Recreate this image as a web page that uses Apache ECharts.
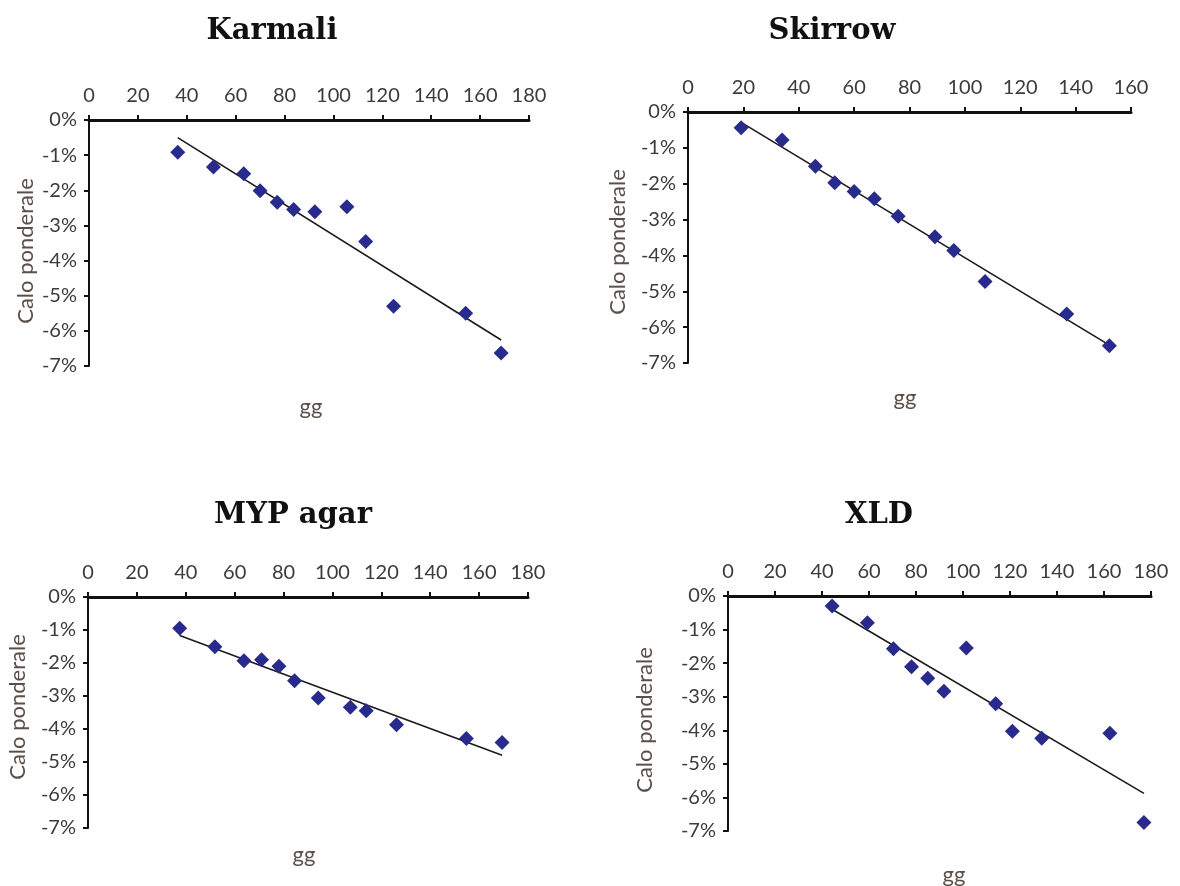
<!DOCTYPE html>
<html>
<head>
<meta charset="utf-8">
<script src="https://cdn.jsdelivr.net/npm/echarts@6/dist/echarts.min.js"></script>
<style>
  html, body { margin: 0; padding: 0; background: #fff; }
  #chart { width: 1180px; height: 886px; }
</style>
</head>
<body>
<div id="chart"></div>
<script>
// days (gg) and weight loss (%) per medium
const karmaliX = [36.3, 50.9, 63.3, 70.0, 77.0, 83.7, 92.4, 105.5, 113.2, 124.6, 154.1, 168.6];
const karmaliY = [-0.92, -1.34, -1.53, -2.01, -2.34, -2.55, -2.61, -2.47, -3.46, -5.30, -5.50, -6.63];

const skirrowX = [19.2, 34.0, 46.0, 53.0, 60.0, 67.3, 75.9, 89.2, 96.0, 107.3, 136.8, 152.2];
const skirrowY = [-0.44, -0.78, -1.51, -1.97, -2.22, -2.42, -2.91, -3.48, -3.86, -4.73, -5.63, -6.52];

const mypX = [37.5, 51.9, 63.8, 71.0, 78.1, 84.5, 94.2, 107.3, 113.8, 126.2, 154.8, 169.4];
const mypY = [-0.95, -1.51, -1.93, -1.90, -2.10, -2.54, -3.06, -3.34, -3.45, -3.87, -4.29, -4.41];

const xldX = [44.3, 59.3, 70.4, 78.1, 85.0, 91.9, 101.4, 113.9, 121.0, 133.5, 162.5, 177.0];
const xldY = [-0.30, -0.80, -1.57, -2.11, -2.45, -2.84, -1.55, -3.21, -4.03, -4.24, -4.09, -6.75];

const titles = ['Karmali', 'Skirrow', 'MYP agar', 'XLD'];
const xMaxes = [180, 160, 180, 180];
const yTicks = [0, -1, -2, -3, -4, -5, -6, -7];

const panels = [
  { xs: karmaliX, ys: karmaliY, grid: { left: 89, top: 120, width: 440, height: 246 }, title: [272, 31], xName: [311, 407], yName: [26, 251] },
  { xs: skirrowX, ys: skirrowY, grid: { left: 688, top: 112, width: 443, height: 251 }, title: [832, 31], xName: [905, 398], yName: [618, 242] },
  { xs: mypX, ys: mypY, grid: { left: 88, top: 597, width: 440, height: 231 }, title: [293, 515], xName: [304, 855], yName: [18, 707] },
  { xs: xldX, ys: xldY, grid: { left: 728, top: 596, width: 423, height: 235 }, title: [879, 515], xName: [954, 875], yName: [645, 720] }
];

// least squares trend line, spanning the data range
function trend(xs, ys) {
  const n = xs.length;
  const mx = xs.reduce((a, b) => a + b, 0) / n;
  const my = ys.reduce((a, b) => a + b, 0) / n;
  let sxy = 0, sxx = 0;
  for (let i = 0; i < n; i++) {
    sxy += (xs[i] - mx) * (ys[i] - my);
    sxx += (xs[i] - mx) * (xs[i] - mx);
  }
  const b = sxy / sxx, a = my - b * mx;
  const x0 = Math.min(...xs), x1 = Math.max(...xs);
  return [[x0, a + b * x0], [x1, a + b * x1]];
}

const tickColor = '#3b3b3b';
const nameColor = '#5a4f49';
const sans = 'Lato';

const grid = [], xAxis = [], yAxis = [], series = [], graphic = [];

panels.forEach((p, i) => {
  grid.push(p.grid);
  xAxis.push({
    gridIndex: i, type: 'value', position: 'top',
    min: 0, max: xMaxes[i], interval: 20,
    axisLine: { onZero: false, lineStyle: { color: '#111', width: 3 } },
    axisTick: { length: 5, lineStyle: { color: '#111', width: 2 } },
    axisLabel: { margin: 14, color: tickColor, fontFamily: sans, fontSize: 20 },
    splitLine: { show: false }
  });
  yAxis.push({
    gridIndex: i, type: 'value',
    min: yTicks[yTicks.length - 1], max: yTicks[0], interval: 1,
    axisLine: { show: true, onZero: false, lineStyle: { color: '#111', width: 2 } },
    axisTick: { show: true, length: 5, lineStyle: { color: '#111', width: 2 } },
    axisLabel: { margin: 12, color: tickColor, fontFamily: sans, fontSize: 20, formatter: v => (v === 0 ? 0 : v) + '%' },
    splitLine: { show: false }
  });
  series.push({
    type: 'line', xAxisIndex: i, yAxisIndex: i,
    data: trend(p.xs, p.ys), symbol: 'none', silent: true,
    lineStyle: { color: '#1a1a1a', width: 1.6 }, z: 2
  });
  series.push({
    type: 'scatter', xAxisIndex: i, yAxisIndex: i,
    data: p.xs.map((x, k) => [x, p.ys[k]]),
    symbol: 'diamond', symbolSize: 15,
    itemStyle: { color: '#282a8c', opacity: 1 }, z: 3
  });
  graphic.push({
    type: 'text', x: p.title[0], y: p.title[1],
    style: { text: titles[i], align: 'center', verticalAlign: 'middle', fontFamily: 'DejaVu Serif', fontWeight: 'bold', fontSize: 29, fill: '#111' }
  });
  graphic.push({
    type: 'text', x: p.xName[0], y: p.xName[1],
    style: { text: 'gg', align: 'center', verticalAlign: 'middle', fontFamily: sans, fontSize: 22, fill: nameColor }
  });
  graphic.push({
    type: 'text', x: p.yName[0], y: p.yName[1], rotation: Math.PI / 2,
    style: { text: 'Calo ponderale', align: 'center', verticalAlign: 'middle', fontFamily: sans, fontSize: 22, fill: nameColor }
  });
});

const chart = echarts.init(document.getElementById('chart'));
chart.setOption({
  backgroundColor: '#fff',
  animation: false,
  grid, xAxis, yAxis, series, graphic
});
</script>
</body>
</html>
